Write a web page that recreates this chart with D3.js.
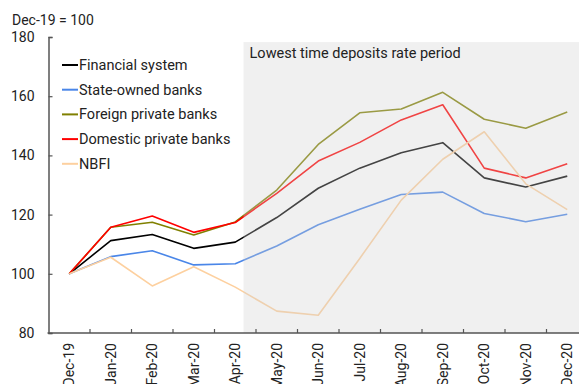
<!DOCTYPE html>
<html>
<head>
<meta charset="utf-8">
<script src="https://cdn.jsdelivr.net/npm/d3@7"></script>
<style>
  html, body { margin: 0; padding: 0; background: #fff; }
  svg { display: block; font-family: Roboto, "Noto Sans", sans-serif; }
</style>
</head>
<body>
<div id="chart"></div>
<script>
const months = ["Dec-19", "Jan-20", "Feb-20", "Mar-20", "Apr-20", "May-20", "Jun-20",
  "Jul-20", "Aug-20", "Sep-20", "Oct-20", "Nov-20", "Dec-20"];

const financialSystem = [100, 111.2, 113.3, 108.6, 110.7, 119.0, 128.9, 135.7, 140.9, 144.3, 132.4, 129.3, 133.0];
const stateOwned      = [100, 105.8, 107.8, 103.0, 103.4, 109.4, 116.6, 121.8, 126.8, 127.6, 120.4, 117.6, 120.1];
const foreignPrivate  = [100, 115.7, 117.4, 113.1, 117.5, 128.3, 143.7, 154.4, 155.7, 161.3, 152.2, 149.2, 154.7];
const domesticPrivate = [100, 115.7, 119.5, 114.0, 117.3, 127.2, 138.1, 144.4, 152.0, 157.1, 135.7, 132.4, 137.2];
const nbfi            = [100, 105.6, 95.9, 102.4, 95.5, 87.4, 86.0, 105.2, 124.9, 138.7, 148.0, 130.4, 121.7];

const seriesNames  = ["Financial system", "State-owned banks", "Foreign private banks", "Domestic private banks", "NBFI"];
const seriesValues = [financialSystem, stateOwned, foreignPrivate, domesticPrivate, nbfi];
const seriesColors = ["#000000", "#4a86e8", "#808000", "#ff0000", "#fdd09f"];

const yTicks = [80, 100, 120, 140, 160, 180];
const shadeLabel = "Lowest time deposits rate period";
const shadeStartIndex = 4.2;   // a little past Apr-20
const shadeTop = 178.3;

const W = 579, H = 384;
const M = { top: 37, left: 48.5, bottom: 333 };
const bandW = 41.5;

const svg = d3.select("#chart").append("svg").attr("width", W).attr("height", H);

const x = d3.scaleBand().domain(months).range([M.left, M.left + months.length * bandW]).padding(0);
const cx = (d) => x(d) + x.bandwidth() / 2;
const xi = d3.scaleLinear().domain([0, 1]).range([cx(months[0]), cx(months[1])]);
const y = d3.scaleLinear().domain([80, 180]).range([M.bottom, M.top]);

// lines
const line = d3.line().x((d, i) => cx(months[i])).y((d) => y(d));
const gLines = svg.append("g");
seriesValues.forEach((vals, k) => {
  gLines.append("path").datum(vals).attr("d", line)
    .attr("fill", "none").attr("stroke", seriesColors[k]).attr("stroke-width", 1.6)
    .attr("stroke-linejoin", "round");
});

// shaded period drawn over the lines (semi transparent)
svg.append("rect")
  .attr("x", xi(shadeStartIndex)).attr("y", y(shadeTop))
  .attr("width", W - xi(shadeStartIndex)).attr("height", y(80) - y(shadeTop))
  .attr("fill", "#d1d1d1").attr("fill-opacity", 0.325);

svg.append("text").attr("x", xi(shadeStartIndex) + 6).attr("y", y(shadeTop) + 16)
  .attr("font-size", 14.5).attr("fill", "#222").text(shadeLabel);

// y axis
const yAxis = svg.append("g").attr("transform", `translate(${M.left},0)`)
  .call(d3.axisLeft(y).tickValues(yTicks).tickSize(-4).tickPadding(14));
yAxis.select(".domain").attr("stroke", "#555").attr("stroke-width", 1.5);
yAxis.selectAll(".tick line").attr("stroke", "#555").attr("stroke-width", 1.2);
yAxis.selectAll(".tick text").attr("font-size", 14).attr("fill", "#222").attr("font-family", "Roboto, sans-serif");

// x axis
const xAxis = svg.append("g").attr("transform", `translate(0,${M.bottom})`)
  .call(d3.axisBottom(x).tickSize(0).tickPadding(0));
xAxis.select(".domain").remove();
xAxis.selectAll(".tick text")
  .attr("font-size", 14).attr("fill", "#222").attr("font-family", "Roboto, sans-serif")
  .attr("transform", "translate(0,10) rotate(-90)")
  .attr("text-anchor", "end").attr("dy", "0.35em").attr("x", 0).attr("y", 0);
svg.append("line").attr("x1", M.left - 1).attr("x2", W).attr("y1", M.bottom).attr("y2", M.bottom)
  .attr("stroke", "#555").attr("stroke-width", 1.5);
svg.append("g").selectAll("line").data(months.slice(1)).join("line")
  .attr("x1", (d) => x(d)).attr("x2", (d) => x(d))
  .attr("y1", M.bottom).attr("y2", M.bottom - 4)
  .attr("stroke", "#555").attr("stroke-width", 1.2);

// unit label
svg.append("text").attr("x", 12).attr("y", 25).attr("font-size", 14).attr("fill", "#222").text("Dec-19 = 100");

// legend
const lg = svg.append("g").attr("transform", "translate(62,65)");
seriesNames.forEach((name, k) => {
  const g = lg.append("g").attr("transform", `translate(0,${k * 24.7})`);
  g.append("line").attr("x1", 0).attr("x2", 16).attr("y1", 0).attr("y2", 0)
    .attr("stroke", seriesColors[k]).attr("stroke-width", 2);
  g.append("text").attr("x", 17).attr("y", 0).attr("dy", "0.35em")
    .attr("font-size", 14.5).attr("fill", "#222").text(name);
});
</script>
</body>
</html>
